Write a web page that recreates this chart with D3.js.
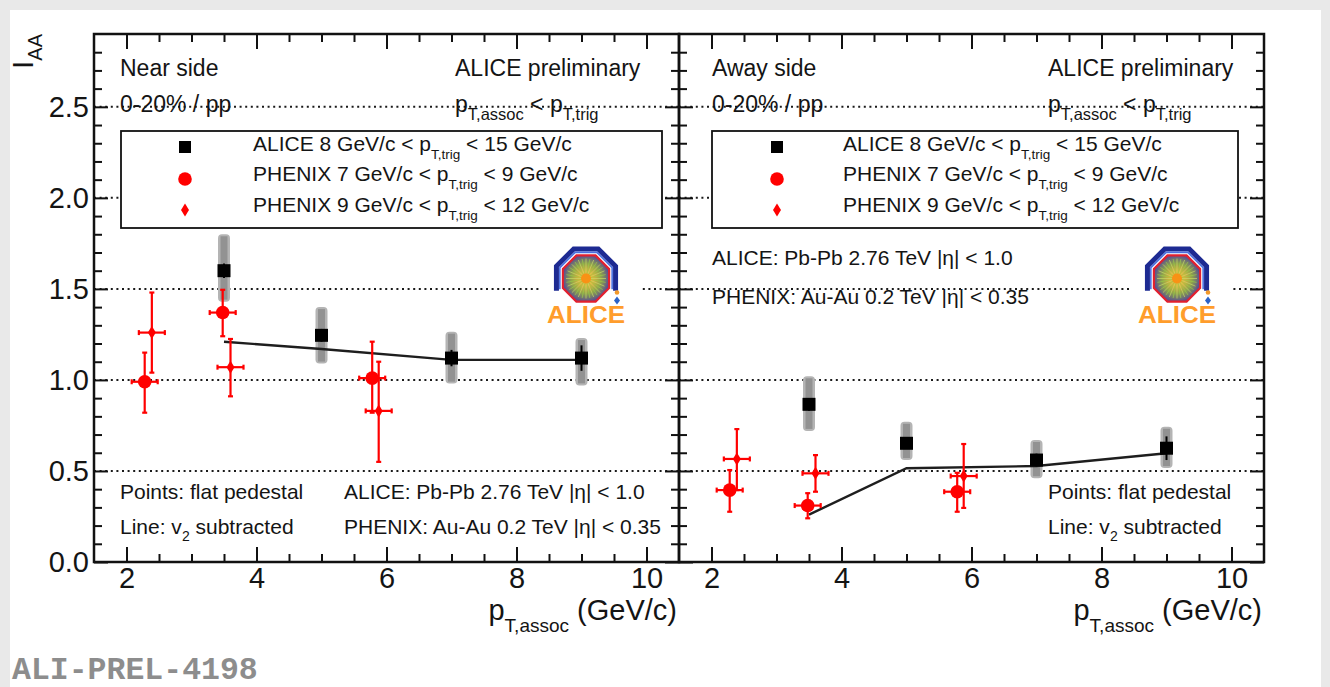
<!DOCTYPE html>
<html>
<head>
<meta charset="utf-8">
<script src="https://cdn.jsdelivr.net/npm/d3@7"></script>
<style>
  html, body { margin: 0; padding: 0; background: #fff; }
  svg { display: block; font-family: "Liberation Sans", Arial, Helvetica, sans-serif; }
  svg text { white-space: pre; }
</style>
</head>
<body>
<svg id="chart" width="1330" height="687"></svg>
<script>
// ---------------- data ----------------
const xMajorTicks = [2, 4, 6, 8, 10];
const yMajorTicks = [0, 0.5, 1.0, 1.5, 2.0, 2.5];
const gridLevels = [0.5, 1.0, 1.5, 2.0, 2.5];

// ALICE, 8 < pT,trig < 15 GeV/c
const alicePt = [3.5, 5, 7, 9];
const aliceNear = [1.60, 1.245, 1.12, 1.12];
const aliceNearStat = [0.04, 0.035, 0.045, 0.07];
const aliceNearSysLo = [1.43, 1.09, 0.98, 0.97];
const aliceNearSysHi = [1.80, 1.40, 1.265, 1.23];
const aliceNearV2 = [1.21, 1.17, 1.11, 1.11];

const aliceAway = [0.866, 0.652, 0.56, 0.625];
const aliceAwayStat = [0.035, 0.03, 0.035, 0.065];
const aliceAwaySysLo = [0.72, 0.56, 0.46, 0.516];
const aliceAwaySysHi = [1.02, 0.77, 0.67, 0.743];
const aliceAwayV2 = [0.26, 0.515, 0.527, 0.597];

// PHENIX, 7 < pT,trig < 9 GeV/c (circles)
const phenixPtA = [2.28, 3.48, 5.78];
const phenixNearA = [0.99, 1.37, 1.01];
const phenixNearALo = [0.82, 1.24, 0.82];
const phenixNearAHi = [1.15, 1.495, 1.21];
const phenixAwayA = [0.395, 0.31, 0.386];
const phenixAwayALo = [0.276, 0.24, 0.276];
const phenixAwayAHi = [0.505, 0.378, 0.49];

// PHENIX, 9 < pT,trig < 12 GeV/c (diamonds)
const phenixPtB = [2.39, 3.60, 5.88];
const phenixNearB = [1.26, 1.07, 0.83];
const phenixNearBLo = [1.04, 0.91, 0.55];
const phenixNearBHi = [1.48, 1.225, 1.10];
const phenixAwayB = [0.566, 0.487, 0.472];
const phenixAwayBLo = [0.395, 0.386, 0.297];
const phenixAwayBHi = [0.73, 0.587, 0.648];

const phenixPtErr = [0.2, 0.2, 0.2];

const legendLabels = [
  [{t: "ALICE 8 GeV/c < p"}, {t: "T,trig", sub: true}, {t: " < 15 GeV/c"}],
  [{t: "PHENIX 7 GeV/c < p"}, {t: "T,trig", sub: true}, {t: " < 9 GeV/c"}],
  [{t: "PHENIX 9 GeV/c < p"}, {t: "T,trig", sub: true}, {t: " < 12 GeV/c"}]
];

// ---------------- layout ----------------
const W = 1330, H = 687;
const svg = d3.select("#chart");
const defs = svg.append("defs");

const y = d3.scaleLinear().domain([0, 2.9]).range([562, 34]);

const panels = [
  {
    x0: 94, x1: 679, title: "Near side",
    colA: 120, colB: 455, legBox: [121, 662], legMarkX: 185, legTextX: 253,
    logo: [586, 278.5],
    alice: aliceNear, aliceStat: aliceNearStat, sysLo: aliceNearSysLo, sysHi: aliceNearSysHi, v2: aliceNearV2,
    pA: phenixNearA, pALo: phenixNearALo, pAHi: phenixNearAHi,
    pB: phenixNearB, pBLo: phenixNearBLo, pBHi: phenixNearBHi,
    yLabels: true
  },
  {
    x0: 679, x1: 1264, title: "Away side",
    colA: 712, colB: 1048, legBox: [712, 1238], legMarkX: 777, legTextX: 843,
    logo: [1177, 278.5],
    alice: aliceAway, aliceStat: aliceAwayStat, sysLo: aliceAwaySysLo, sysHi: aliceAwaySysHi, v2: aliceAwayV2,
    pA: phenixAwayA, pALo: phenixAwayALo, pAHi: phenixAwayAHi,
    pB: phenixAwayB, pBLo: phenixAwayBLo, pBHi: phenixAwayBHi,
    yLabels: false
  }
];

// page background
svg.append("rect").attr("width", W).attr("height", H).attr("fill", "#e9e9e9");
svg.append("rect").attr("x", 10).attr("y", 10).attr("width", 1311).attr("height", H - 10).attr("fill", "#fff");

// logo gradient
const grad = defs.append("radialGradient").attr("id", "logoCore");
grad.append("stop").attr("offset", "0%").attr("stop-color", "#ff8a10");
grad.append("stop").attr("offset", "30%").attr("stop-color", "#e4b23a");
grad.append("stop").attr("offset", "65%").attr("stop-color", "#8fa54a");
grad.append("stop").attr("offset", "100%").attr("stop-color", "#5b4f8e");

// rich text helper (subscripts via tspans)
function richText(g, x, yy, parts, size, subSize, subDy, anchor) {
  const t = g.append("text")
    .attr("x", x).attr("y", yy)
    .attr("font-size", size)
    .attr("text-anchor", anchor || "start")
    .attr("fill", "#141414");
  let shifted = false;
  parts.forEach(p => {
    const ts = t.append("tspan").text(p.t);
    if (p.sub) { ts.attr("font-size", subSize).attr("dy", subDy); shifted = true; }
    else if (shifted) { ts.attr("dy", -subDy); shifted = false; }
  });
  return t;
}

function octagon(cx, cy, R, angles) {
  return angles.map(a => [cx + R * Math.cos(a * Math.PI / 180), cy + R * Math.sin(a * Math.PI / 180)]);
}

function drawLogo(g, cx, cy) {
  g.append("rect").attr("x", cx - 46).attr("y", cy - 37).attr("width", 102).attr("height", 88).attr("fill", "#fff");
  const arcAngles = [157.5, 202.5, 247.5, 292.5, 337.5, 382.5];
  const line = d3.line();
  g.append("path").attr("d", line(octagon(cx, cy, 32, arcAngles)))
    .attr("fill", "none").attr("stroke", "#1d2a92").attr("stroke-width", 5).attr("stroke-linejoin", "miter");
  g.append("path").attr("d", line(octagon(cx, cy, 28.3, arcAngles)))
    .attr("fill", "none").attr("stroke", "#4a70e0").attr("stroke-width", 1.6);
  const full = octagon(cx, cy, 25, [22.5, 67.5, 112.5, 157.5, 202.5, 247.5, 292.5, 337.5]);
  g.append("path").attr("d", line(full) + "Z")
    .attr("fill", "url(#logoCore)").attr("stroke", "#e2202e").attr("stroke-width", 2.2);
  const rays = d3.range(0, 360, 11.25);
  g.selectAll(null).data(rays).enter().append("line")
    .attr("x1", cx).attr("y1", cy)
    .attr("x2", a => cx + 20 * Math.cos(a * Math.PI / 180))
    .attr("y2", a => cy + 20 * Math.sin(a * Math.PI / 180))
    .attr("stroke", (a, i) => i % 2 ? "#9acd4a" : "#c9d96a")
    .attr("stroke-width", 0.9).attr("opacity", 0.75);
  g.append("circle").attr("cx", cx).attr("cy", cy).attr("r", 5).attr("fill", "#ff8c10").attr("opacity", 0.9);
  g.append("circle").attr("cx", cx + 31).attr("cy", cy + 14).attr("r", 2.3).attr("fill", "#f39a2a");
  g.append("path").attr("d", `M${cx + 31},${cy + 18}l3,4l-3,4l-3,-4z`).attr("fill", "#2a62c8");
  g.append("text").attr("x", cx).attr("y", cy + 44)
    .attr("text-anchor", "middle").attr("font-size", 23).attr("font-weight", "bold")
    .attr("fill", "#ff9d2c").attr("textLength", 78).attr("lengthAdjust", "spacingAndGlyphs")
    .text("ALICE");
}

const diamond = "M0,-6.5L4,0L0,6.5L-4,0Z";

panels.forEach((P, pi) => {
  const x = d3.scaleLinear().domain([1.5, 10.5]).range([P.x0, P.x1]);
  const g = svg.append("g");

  // dotted reference lines
  g.selectAll(null).data(gridLevels).enter().append("line")
    .attr("x1", P.x0).attr("x2", P.x1)
    .attr("y1", d => y(d)).attr("y2", d => y(d))
    .attr("stroke", "#1a1a1a").attr("stroke-width", 2).attr("stroke-dasharray", "2,3.6");

  // legend box
  g.append("rect")
    .attr("x", P.legBox[0]).attr("y", 131)
    .attr("width", P.legBox[1] - P.legBox[0]).attr("height", 97)
    .attr("fill", "#fff").attr("stroke", "#111").attr("stroke-width", 1.8);
  const legY = [147, 179, 210];
  const legBase = [151, 181, 212];
  g.append("rect").attr("x", P.legMarkX - 6).attr("y", legY[0] - 6).attr("width", 12).attr("height", 12).attr("fill", "#000");
  g.append("circle").attr("cx", P.legMarkX).attr("cy", legY[1]).attr("r", 6.8).attr("fill", "#ff0000");
  g.append("path").attr("d", diamond).attr("transform", `translate(${P.legMarkX},${legY[2]})`).attr("fill", "#ff0000");
  legendLabels.forEach((parts, i) => richText(g, P.legTextX, legBase[i], parts, 21, 13.5, 8));

  // logo
  drawLogo(g, P.logo[0], P.logo[1]);

  // header texts
  richText(g, P.colA, 76, [{t: P.title}], 23);
  richText(g, P.colB, 76, [{t: "ALICE preliminary"}], 23);
  richText(g, P.colA, 112, [{t: "0-20% / pp"}], 23);
  richText(g, P.colB, 112, [{t: "p"}, {t: "T,assoc", sub: true}, {t: " < p"}, {t: "T,trig", sub: true}], 23, 16.5, 8);

  const sysTxt = [{t: "Points: flat pedestal"}];
  const lineTxt = [{t: "Line: v"}, {t: "2", sub: true}, {t: " subtracted"}];
  const aliceTxt = [{t: "ALICE: Pb-Pb 2.76 TeV |η| < 1.0"}];
  const phenixTxt = [{t: "PHENIX: Au-Au 0.2 TeV |η| < 0.35"}];
  if (pi === 0) {
    richText(g, P.colA, 499, sysTxt, 21);
    richText(g, P.colA, 534, lineTxt, 21, 14, 7);
    richText(g, 344, 499, aliceTxt, 21);
    richText(g, 344, 534, phenixTxt, 21);
  } else {
    richText(g, P.colB, 499, sysTxt, 21);
    richText(g, P.colB, 534, lineTxt, 21, 14, 7);
    richText(g, P.colA, 265, aliceTxt, 21);
    richText(g, P.colA, 304, phenixTxt, 21);
  }

  // ALICE systematic boxes
  const idx = d3.range(alicePt.length);
  g.selectAll(null).data(idx).enter().append("rect")
    .attr("x", i => x(alicePt[i]) - 6).attr("width", 12)
    .attr("y", i => y(P.sysHi[i])).attr("height", i => y(P.sysLo[i]) - y(P.sysHi[i]))
    .attr("rx", 4).attr("fill", "#b4b4b4");
  g.selectAll(null).data(idx).enter().append("rect")
    .attr("x", i => x(alicePt[i]) - 3.5).attr("width", 7)
    .attr("y", i => y(P.sysHi[i]) + 2).attr("height", i => y(P.sysLo[i]) - y(P.sysHi[i]) - 4)
    .attr("fill", "#929292");

  // v2-subtracted line
  g.append("path")
    .attr("d", d3.line().x((d, i) => x(alicePt[i])).y(d => y(d))(P.v2))
    .attr("fill", "none").attr("stroke", "#1e1e1e").attr("stroke-width", 2.4);

  // ALICE stat errors + markers
  g.selectAll(null).data(idx).enter().append("line")
    .attr("x1", i => x(alicePt[i])).attr("x2", i => x(alicePt[i]))
    .attr("y1", i => y(P.alice[i] + P.aliceStat[i])).attr("y2", i => y(P.alice[i] - P.aliceStat[i]))
    .attr("stroke", "#000").attr("stroke-width", 2);
  g.selectAll(null).data(idx).enter().append("rect")
    .attr("x", i => x(alicePt[i]) - 6.5).attr("y", i => y(P.alice[i]) - 6.5)
    .attr("width", 13).attr("height", 13).attr("fill", "#000");

  // PHENIX points with error bars
  function phenix(pts, vals, lo, hi, shape) {
    const ii = d3.range(pts.length);
    const eg = g.append("g").attr("stroke", "#ff0000").attr("stroke-width", 2.2);
    ii.forEach(i => {
      const cx = x(pts[i]), cy = y(vals[i]);
      const xl = x(pts[i] - phenixPtErr[i]), xr = x(pts[i] + phenixPtErr[i]);
      const yt = y(hi[i]), yb = y(lo[i]);
      eg.append("line").attr("x1", cx).attr("x2", cx).attr("y1", yt).attr("y2", yb);
      eg.append("line").attr("x1", xl).attr("x2", xr).attr("y1", cy).attr("y2", cy);
      eg.append("line").attr("x1", cx - 2.5).attr("x2", cx + 2.5).attr("y1", yt).attr("y2", yt);
      eg.append("line").attr("x1", cx - 2.5).attr("x2", cx + 2.5).attr("y1", yb).attr("y2", yb);
      eg.append("line").attr("x1", xl).attr("x2", xl).attr("y1", cy - 2.5).attr("y2", cy + 2.5);
      eg.append("line").attr("x1", xr).attr("x2", xr).attr("y1", cy - 2.5).attr("y2", cy + 2.5);
    });
    if (shape === "circle") {
      g.selectAll(null).data(ii).enter().append("circle")
        .attr("cx", i => x(pts[i])).attr("cy", i => y(vals[i])).attr("r", 6.8).attr("fill", "#ff0000");
    } else {
      g.selectAll(null).data(ii).enter().append("path")
        .attr("d", diamond)
        .attr("transform", i => `translate(${x(pts[i])},${y(vals[i])})`).attr("fill", "#ff0000");
    }
  }
  phenix(phenixPtB, P.pB, P.pBLo, P.pBHi, "diamond");
  phenix(phenixPtA, P.pA, P.pALo, P.pAHi, "circle");

  // axes (ticks inside the frame)
  const xMinor = d3.range(2.5, 10.5, 0.5).filter(v => v % 2 !== 0);
  const yMinor = d3.range(0.1, 2.85, 0.1).filter(v => Math.abs(v * 2 - Math.round(v * 2)) > 1e-6);
  const styleAxis = sel => {
    sel.select(".domain").remove();
    sel.selectAll("line").attr("stroke", "#111").attr("stroke-width", 2);
    sel.selectAll("text").remove();
  };
  svg.append("g").attr("transform", `translate(0,${y(0)})`)
    .call(d3.axisTop(x).tickValues(xMajorTicks).tickSize(15)).call(styleAxis);
  svg.append("g").attr("transform", `translate(0,${y(0)})`)
    .call(d3.axisTop(x).tickValues(xMinor).tickSize(8)).call(styleAxis);
  svg.append("g").attr("transform", `translate(0,${y(2.9)})`)
    .call(d3.axisBottom(x).tickValues(xMajorTicks).tickSize(15)).call(styleAxis);
  svg.append("g").attr("transform", `translate(0,${y(2.9)})`)
    .call(d3.axisBottom(x).tickValues(xMinor).tickSize(8)).call(styleAxis);
  svg.append("g").attr("transform", `translate(${P.x0},0)`)
    .call(d3.axisRight(y).tickValues(yMajorTicks).tickSize(14)).call(styleAxis);
  svg.append("g").attr("transform", `translate(${P.x0},0)`)
    .call(d3.axisRight(y).tickValues(yMinor).tickSize(8)).call(styleAxis);
  svg.append("g").attr("transform", `translate(${P.x1},0)`)
    .call(d3.axisLeft(y).tickValues(yMajorTicks).tickSize(14)).call(styleAxis);
  svg.append("g").attr("transform", `translate(${P.x1},0)`)
    .call(d3.axisLeft(y).tickValues(yMinor).tickSize(8)).call(styleAxis);

  // x tick labels
  const xl = svg.append("g").attr("transform", `translate(0,${y(0)})`)
    .call(d3.axisBottom(x).tickValues(xMajorTicks).tickSize(0).tickPadding(5).tickFormat(d3.format("d")));
  xl.select(".domain").remove();
  xl.selectAll("text").attr("font-size", 29).attr("fill", "#141414")
    .attr("font-family", "Liberation Sans, Arial, sans-serif");

  if (P.yLabels) {
    const yl = svg.append("g").attr("transform", `translate(${P.x0},0)`)
      .call(d3.axisLeft(y).tickValues(yMajorTicks).tickSize(0).tickPadding(5).tickFormat(d3.format(".1f")));
    yl.select(".domain").remove();
    yl.selectAll("text").attr("font-size", 29).attr("fill", "#141414")
      .attr("font-family", "Liberation Sans, Arial, sans-serif");
  }

  // frame
  svg.append("rect")
    .attr("x", P.x0).attr("y", y(2.9)).attr("width", P.x1 - P.x0).attr("height", y(0) - y(2.9))
    .attr("fill", "none").attr("stroke", "#111").attr("stroke-width", 2.5);

  // x title
  richText(svg, P.x1 - 2, 620, [{t: "p"}, {t: "T,assoc", sub: true}, {t: " (GeV/c)"}], 29, 19, 12, "end");
});

// y title
const yt = svg.append("text")
  .attr("transform", "translate(33,34) rotate(-90)")
  .attr("text-anchor", "end").attr("font-size", 30).attr("fill", "#141414");
yt.append("tspan").text("I");
yt.append("tspan").attr("font-size", 20).attr("dy", 9).text("AA");

// figure id
svg.append("text").attr("x", 12).attr("y", 679)
  .attr("font-family", "Liberation Mono, Courier New, monospace").attr("font-weight", "bold")
  .attr("font-size", 31.5).attr("fill", "#8d8d8d").text("ALI-PREL-4198");
</script>
</body>
</html>
